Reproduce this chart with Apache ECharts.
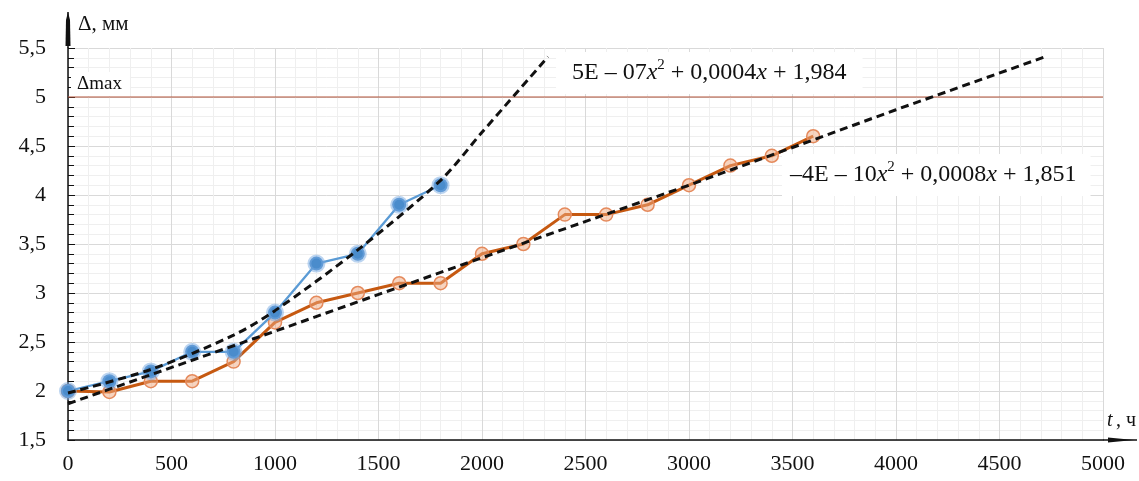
<!DOCTYPE html>
<html>
<head>
<meta charset="utf-8">
<script src="https://cdn.jsdelivr.net/npm/echarts@6/dist/echarts.min.js"></script>
<style>
  html, body { margin: 0; padding: 0; background: #fff; }
  #chart { width: 1139px; height: 481px; }
</style>
</head>
<body>
<div id="chart"></div>
<script>
// measured values, t (h) -> delta (mm)
var blueT = [0, 200, 400, 600, 800, 1000, 1200, 1400, 1600, 1800]
var blueD = [2, 2.1, 2.2, 2.4, 2.4, 2.8, 3.3, 3.4, 3.9, 4.1]
var orangeT = [0, 200, 400, 600, 800, 1000, 1200, 1400, 1600, 1800, 2000, 2200, 2400, 2600, 2800, 3000, 3200, 3400, 3600]
var orangeD = [2, 1.99, 2.1, 2.1, 2.3, 2.7, 2.9, 3.0, 3.1, 3.1, 3.4, 3.5, 3.8, 3.8, 3.9, 4.1, 4.3, 4.4, 4.6]
// trend lines
var trendBlueT = [0, 400, 800, 1000, 1400, 1800, 2000, 2319]
var trendBlueD = [1.98, 2.22, 2.57, 2.82, 3.44, 4.15, 4.64, 5.41]
var trendOrangeT = [0, 1000, 2000, 3000, 4000, 4720]
var trendOrangeD = [1.87, 2.61, 3.36, 4.1, 4.87, 5.41]
var deltaMaxT = [0, 5000]
var deltaMaxD = [5, 5]
var xTicks = [0, 5000, 500]
var yTicks = [1.5, 5.5, 0.5]

function pairs(xs, ys) {
  return xs.map(function (x, i) { return [x, ys[i]] })
}

var serif = '"Liberation Serif", "DejaVu Serif", serif'
var chart = echarts.init(document.getElementById('chart'))

var dash = { color: '#111', width: 3, type: [8, 5] }
var eqRich = {
  a: { fontFamily: serif, fontSize: 24, fill: '#111', lineHeight: 30 },
  i: { fontFamily: serif, fontStyle: 'italic', fontSize: 24, fill: '#111', lineHeight: 30 },
  s: { fontFamily: serif, fontSize: 15, fill: '#111', verticalAlign: 'top', lineHeight: 30, padding: [0, 0, 10, 0] }
}

var option = {
  animation: false,
  grid: { left: 68, right: 36, top: 48, bottom: 41 },
  xAxis: {
    type: 'value',
    min: xTicks[0], max: xTicks[1], interval: xTicks[2],
    axisLine: { show: true, onZero: false, lineStyle: { color: '#111', width: 1.5 } },
    axisTick: { show: false },
    axisLabel: {
      color: '#111', fontFamily: serif, fontSize: 22, margin: 13,
      formatter: function (v) { return String(v) }
    },
    splitLine: { show: true, lineStyle: { color: '#d9d9d9', width: 1 } },
    minorTick: { show: false, splitNumber: 5 },
    minorSplitLine: { show: true, lineStyle: { color: '#efefef', width: 1 } }
  },
  yAxis: {
    type: 'value',
    min: yTicks[0], max: yTicks[1], interval: yTicks[2],
    axisLine: { show: true, lineStyle: { color: '#111', width: 1.5 } },
    axisTick: { show: true, inside: true, length: 7, lineStyle: { color: '#111' } },
    minorTick: { show: true, splitNumber: 5, length: 6, lineStyle: { color: '#111' } },
    axisLabel: {
      color: '#111', fontFamily: serif, fontSize: 22, margin: 22,
      formatter: function (v) { return String(v).replace('.', ',') }
    },
    splitLine: { show: true, lineStyle: { color: '#d9d9d9', width: 1 } },
    minorSplitLine: { show: true, lineStyle: { color: '#efefef', width: 1 } }
  },
  series: [
    {
      type: 'line',
      data: pairs(deltaMaxT, deltaMaxD),
      symbol: 'none',
      lineStyle: { color: '#b4553a', width: 1.2 },
      z: 2
    },
    {
      type: 'line',
      data: pairs(orangeT, orangeD),
      lineStyle: { color: '#c65911', width: 3 },
      symbol: 'circle',
      symbolSize: 13,
      itemStyle: { color: 'rgba(240,170,130,0.5)', borderColor: '#e58a5c', borderWidth: 1.5 },
      z: 3
    },
    {
      type: 'line',
      data: pairs(blueT, blueD),
      lineStyle: { color: '#5b9bd5', width: 2.3 },
      symbol: 'circle',
      symbolSize: 14,
      itemStyle: { color: '#4a8ccc', borderColor: 'rgba(120,170,225,0.5)', borderWidth: 4 },
      z: 4
    },
    {
      type: 'line',
      data: pairs(trendBlueT, trendBlueD),
      smooth: 0.3,
      showSymbol: false, symbol: 'none',
      lineStyle: dash,
      z: 5
    },
    {
      type: 'line',
      data: pairs(trendOrangeT, trendOrangeD),
      smooth: false,
      showSymbol: false, symbol: 'none',
      lineStyle: dash,
      z: 5
    }
  ],
  graphic: [
    // axis arrows
    { type: 'line', shape: { x1: 1103, y1: 440, x2: 1137, y2: 440 }, style: { stroke: '#111', lineWidth: 1.5 }, z: 10 },
    { type: 'polygon', shape: { points: [[1108, 437.5], [1134, 440], [1108, 442.5]] }, style: { fill: '#111' }, z: 10 },
    { type: 'line', shape: { x1: 68, y1: 48, x2: 68, y2: 12 }, style: { stroke: '#111', lineWidth: 1.5 }, z: 10 },
    { type: 'polygon', shape: { points: [[65.5, 46], [66, 20], [68, 12], [70, 20], [70.5, 46]] }, style: { fill: '#111' }, z: 10 },
    // axis names
    {
      type: 'text', x: 78, y: 14, z: 10,
      style: { text: 'Δ, мм', font: '21px ' + serif, fill: '#111' }
    },
    {
      type: 'text', x: 1107, y: 411, z: 10,
      style: {
        text: '{i|t} {a|, ч}',
        rich: {
          i: { fontFamily: serif, fontStyle: 'italic', fontSize: 20, fill: '#111' },
          a: { fontFamily: serif, fontSize: 20, fill: '#111' }
        }
      }
    },
    // delta max label
    {
      type: 'text', x: 71, y: 72, z: 10,
      style: {
        text: 'Δmax', font: '19px ' + serif, fill: '#111',
        backgroundColor: '#fff', padding: [3, 8, 2, 6]
      }
    },
    // trend equations
    {
      type: 'text', x: 556, y: 52, z: 10,
      style: {
        text: '{a|5E – 07}{i|x}{s|2}{a| + 0,0004}{i|x}{a| + 1,984}',
        backgroundColor: '#fff',
        padding: [6, 16, 6, 16],
        rich: eqRich
      }
    },
    {
      type: 'text', x: 782, y: 154, z: 10,
      style: {
        text: '{a|–4E – 10}{i|x}{s|2}{a| + 0,0008}{i|x}{a| + 1,851}',
        backgroundColor: '#fff',
        padding: [6, 14, 6, 8],
        rich: eqRich
      }
    }
  ]
}

chart.setOption(option)
</script>
</body>
</html>
